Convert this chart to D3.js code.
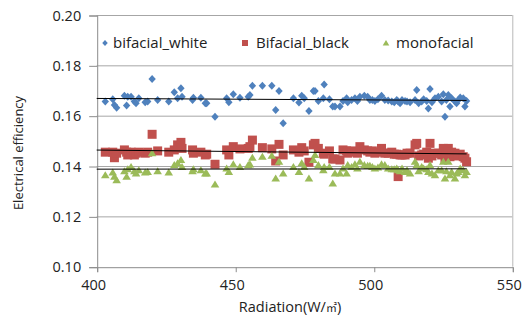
<!DOCTYPE html>
<html>
<head>
<meta charset="utf-8">
<script src="https://cdn.jsdelivr.net/npm/d3@7"></script>
<style>
    body { margin: 0; background: #fff; }
    text { font-family: "Open Sans", "Noto Sans CJK KR", sans-serif; fill: #222; }
</style>
</head>
<body>
<div id="chart"></div>
<script>
// radiation (W/m2) shared by the three modules
var radiation = [
    403.1, 405.8, 406.4, 407.2, 410.0, 410.8, 411.2, 412.4, 413.6, 414.2,
    415.2, 417.5, 418.4, 420.0, 422.0, 426.0, 428.0, 429.2, 430.4, 430.8,
    434.6, 434.9, 437.6, 439.2, 439.7, 442.7, 446.9, 447.7, 449.3, 451.7,
    454.7, 455.3, 456.2, 459.8, 463.2, 464.6, 465.8, 467.3, 471.0, 473.0,
    474.0, 474.9, 476.6, 478.2, 478.8, 480.0, 481.8, 482.1, 484.0, 485.2,
    486.0, 487.8, 488.9, 490.2, 490.6, 492.0, 493.2, 494.1, 495.0, 496.6,
    497.8, 498.6, 499.5, 500.4, 501.5, 502.8, 504.0, 505.2, 506.5, 507.4,
    508.3, 508.8, 509.5, 510.2, 511.3, 512.0, 513.1, 514.9, 515.5, 516.2,
    517.3, 518.0, 519.1, 519.7, 520.3, 521.0, 522.1, 523.3, 524.5, 525.1,
    525.7, 526.2, 526.9, 527.5, 528.1, 529.3, 529.9, 530.5, 531.2, 532.3,
    532.9, 533.5
];
var bifacialWhite = [
    0.1656, 0.1665, 0.1642, 0.1632, 0.1679, 0.1640, 0.1675, 0.1675, 0.1656, 0.1649,
    0.1669, 0.1653, 0.1656, 0.1746, 0.1662, 0.1656, 0.1693, 0.1669, 0.1709, 0.1675,
    0.1662, 0.1671, 0.1671, 0.1649, 0.1649, 0.1596, 0.1669, 0.1653, 0.1685, 0.1671,
    0.1675, 0.1682, 0.1719, 0.1719, 0.1719, 0.1623, 0.1698, 0.1570, 0.1669, 0.1652,
    0.1679, 0.1669, 0.1619, 0.1698, 0.1698, 0.1658, 0.1669, 0.1724, 0.1665, 0.1636,
    0.1636, 0.1636, 0.1658, 0.1669, 0.1653, 0.1662, 0.1669, 0.1658, 0.1675, 0.1679,
    0.1675, 0.1662, 0.1662, 0.1658, 0.1665, 0.1679, 0.1662, 0.1660, 0.1656, 0.1653,
    0.1662, 0.1656, 0.1649, 0.1662, 0.1658, 0.1656, 0.1653, 0.1662, 0.1702, 0.1649,
    0.1656, 0.1665, 0.1658, 0.1629, 0.1706, 0.1653, 0.1669, 0.1675, 0.1656, 0.1685,
    0.1596, 0.1662, 0.1682, 0.1636, 0.1669, 0.1656, 0.1649, 0.1662, 0.1672, 0.1669,
    0.1636, 0.1658
];
var bifacialBlack = [
    0.1455, 0.1455, 0.1433, 0.1451, 0.1464, 0.1455, 0.1444, 0.1455, 0.1444, 0.1451,
    0.1455, 0.1451, 0.1455, 0.1526, 0.1460, 0.1455, 0.1464, 0.1484, 0.1494, 0.1470,
    0.1464, 0.1451, 0.1455, 0.1444, 0.1447, 0.1407, 0.1464, 0.1444, 0.1477, 0.1468,
    0.1470, 0.1477, 0.1503, 0.1473, 0.1468, 0.1420, 0.1486, 0.1444, 0.1464, 0.1455,
    0.1473, 0.1460, 0.1415, 0.1484, 0.1490, 0.1470, 0.1451, 0.1447, 0.1460, 0.1428,
    0.1428, 0.1424, 0.1464, 0.1460, 0.1451, 0.1460, 0.1455, 0.1451, 0.1477, 0.1464,
    0.1460, 0.1455, 0.1460, 0.1451, 0.1455, 0.1470, 0.1451, 0.1451, 0.1455, 0.1447,
    0.1447, 0.1358, 0.1444, 0.1444, 0.1444, 0.1451, 0.1451, 0.1484, 0.1490, 0.1440,
    0.1444, 0.1447, 0.1455, 0.1431, 0.1490, 0.1440, 0.1451, 0.1451, 0.1444, 0.1470,
    0.1431, 0.1444, 0.1470, 0.1437, 0.1455, 0.1451, 0.1440, 0.1444, 0.1447, 0.1437,
    0.1431, 0.1417
];
var monofacial = [
    0.1364, 0.1375, 0.1358, 0.1344, 0.1380, 0.1358, 0.1388, 0.1397, 0.1380, 0.1371,
    0.1384, 0.1375, 0.1377, 0.1451, 0.1380, 0.1375, 0.1404, 0.1411, 0.1424, 0.1397,
    0.1380, 0.1388, 0.1384, 0.1371, 0.1371, 0.1327, 0.1391, 0.1377, 0.1407, 0.1397,
    0.1404, 0.1407, 0.1433, 0.1437, 0.1441, 0.1351, 0.1417, 0.1371, 0.1397, 0.1377,
    0.1411, 0.1397, 0.1351, 0.1424, 0.1444, 0.1404, 0.1384, 0.1397, 0.1397, 0.1331,
    0.1371, 0.1371, 0.1391, 0.1371, 0.1404, 0.1397, 0.1407, 0.1391, 0.1417, 0.1404,
    0.1401, 0.1401, 0.1397, 0.1391, 0.1395, 0.1407, 0.1404, 0.1391, 0.1388, 0.1388,
    0.1391, 0.1384, 0.1380, 0.1391, 0.1377, 0.1384, 0.1371, 0.1417, 0.1404, 0.1380,
    0.1397, 0.1391, 0.1388, 0.1377, 0.1404, 0.1371, 0.1364, 0.1384, 0.1384, 0.1417,
    0.1351, 0.1380, 0.1417, 0.1364, 0.1377, 0.1351, 0.1371, 0.1377, 0.1391, 0.1384,
    0.1364, 0.1377
];
var seriesNames = ["bifacial_white", "Bifacial_black", "monofacial"];
var xTicks = [400, 450, 500, 550];
var yTicks = [0.10, 0.12, 0.14, 0.16, 0.18, 0.20];

var width = 528, height = 322;
var margin = { top: 15, right: 15.7, bottom: 55.3, left: 96.7 };
var colors = ["#4F81BD", "#C0504D", "#9BBB59"];

// marker shapes, centred on 0,0
function markerPath(kind, s) {
    if (kind === 0) {
        return "M0," + (-s) + "L" + (s * 0.92) + ",0L0," + s + "L" + (-s * 0.92) + ",0Z";
    } else if (kind === 1) {
        return "M" + (-s) + "," + (-s) + "h" + (2 * s) + "v" + (2 * s) + "h" + (-2 * s) + "Z";
    }
    return "M0," + (-s) + "L" + (s * 1.1) + "," + (s * 0.8) + "L" + (-s * 1.1) + "," + (s * 0.8) + "Z";
}

var svg = d3.select("#chart").append("svg")
    .attr("width", width)
    .attr("height", height);
svg.append("rect").attr("width", width).attr("height", height).attr("fill", "#fff");

var x = d3.scaleLinear().domain([400, 550]).range([margin.left, width - margin.right]);
var y = d3.scaleLinear().domain([0.10, 0.20]).range([height - margin.bottom, margin.top]);

//gridlines
svg.append("g").selectAll("line")
    .data(yTicks.slice(1))
    .enter().append("line")
    .attr("x1", x(400)).attr("x2", x(550))
    .attr("y1", d => y(d) + 0.5).attr("y2", d => y(d) + 0.5)
    .attr("stroke", "#a6a6a6")
    .attr("stroke-width", 1);
//right border of plot area
svg.append("line")
    .attr("x1", x(550) + 0.5).attr("x2", x(550) + 0.5)
    .attr("y1", y(0.20)).attr("y2", y(0.10))
    .attr("stroke", "#b8b8b8");

//axes
var yAxis = svg.append("g")
    .attr("transform", "translate(" + (x(400) + 0.5) + ",0.5)")
    .call(d3.axisLeft(y).tickValues(yTicks).tickFormat(d3.format(".2f")).tickSize(8).tickPadding(8));
var xAxis = svg.append("g")
    .attr("transform", "translate(0.5," + (y(0.10) + 0.5) + ")")
    .call(d3.axisBottom(x).tickValues(xTicks).tickFormat(d3.format("d")).tickSize(5).tickPadding(8));
[xAxis, yAxis].forEach(function (ax) {
    ax.selectAll("path,line").attr("stroke", "#8c8c8c");
    ax.selectAll("text")
        .attr("font-size", 14.5)
        .attr("font-family", "\"Open Sans\", sans-serif")
        .attr("fill", "#222");
});
xAxis.selectAll("text").attr("dx", -4);

//axis titles
var xTitle = svg.append("text")
    .attr("x", 290)
    .attr("y", 312)
    .attr("text-anchor", "middle")
    .attr("font-size", 14.5)
    .text("Radiation(W/");
xTitle.append("tspan").attr("font-size", 11).text("㎡");
xTitle.append("tspan").text(")");
svg.append("text")
    .attr("transform", "translate(23,153) rotate(-90)")
    .attr("text-anchor", "middle")
    .attr("font-size", 13)
    .text("Electrical efficiency");

//scatter points
var allSeries = [bifacialWhite, bifacialBlack, monofacial];
var sizes = [4, 4.5, 3.9];
allSeries.forEach(function (vals, k) {
    svg.append("g").selectAll("path")
        .data(radiation)
        .enter().append("path")
        .attr("d", markerPath(k, sizes[k]))
        .attr("transform", (d, i) => "translate(" + x(d) + "," + y(vals[i]) + ")")
        .attr("fill", colors[k]);
});

//linear trendlines
allSeries.forEach(function (vals) {
    var mx = d3.mean(radiation), my = d3.mean(vals);
    var sxy = d3.sum(radiation, (d, i) => (d - mx) * (vals[i] - my));
    var sxx = d3.sum(radiation, d => (d - mx) * (d - mx));
    var slope = sxy / sxx;
    var b = my - slope * mx;
    var x0 = 400, x1 = d3.max(radiation);
    svg.append("line")
        .attr("x1", x(x0)).attr("y1", y(b + slope * x0))
        .attr("x2", x(x1)).attr("y2", y(b + slope * x1))
        .attr("stroke", "#000")
        .attr("stroke-width", 1);
});

//legend
var legendPos = [[105, 113], [245, 256], [386, 396]];
var legend = svg.append("g");
seriesNames.forEach(function (name, k) {
    legend.append("path")
        .attr("d", markerPath(k, 3))
        .attr("transform", "translate(" + legendPos[k][0] + ",43)")
        .attr("fill", colors[k]);
    legend.append("text")
        .attr("x", legendPos[k][1])
        .attr("y", 43)
        .attr("dy", "0.35em")
        .attr("font-size", 15)
        .text(name);
});
</script>
</body>
</html>
